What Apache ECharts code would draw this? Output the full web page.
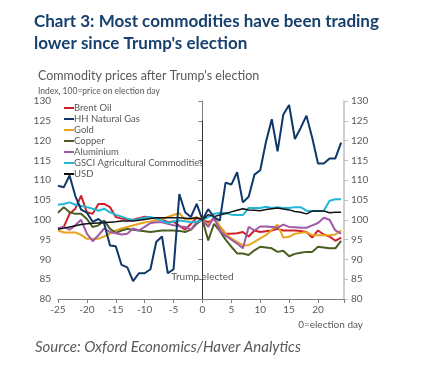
<!DOCTYPE html>
<html>
<head>
<meta charset="utf-8">
<script src="https://cdn.jsdelivr.net/npm/echarts@6/dist/echarts.min.js"></script>
<style>
html,body{margin:0;padding:0;background:#fff;}
#c{width:440px;height:368px;}
</style>
</head>
<body>
<div id="c"></div>
<script>
// Days relative to election day
const days = [-25,-24,-23,-22,-21,-20,-19,-18,-17,-16,-15,-14,-13,-12,-11,-10,-9,-8,-7,-6,-5,-4,-3,-2,-1,0,
  1,2,3,4,5,6,7,8,9,10,11,12,13,14,15,16,17,18,19,20,21,22,23,24];

const brentOil = [97.8,98.2,101.5,102.8,106.1,101.9,101.5,104,104,103.2,100.7,100.3,100.1,100,100.4,100.8,100.5,100.3,100.1,99.4,99.6,98.5,97.5,99,100.5,100,
  99.4,100.2,98.2,96.5,96.5,96.6,96.9,95.8,97.3,96.9,97.1,97.3,97.7,97.3,97.3,97.3,97.2,96.9,95.5,97.3,96.3,95.8,94.7,95.5];
const hhNaturalGas = [108.6,108.2,111.2,106,102.6,101.8,99.5,100.2,99,93.5,93.3,88.6,88,84.5,86.5,86.5,87.5,94.4,95.8,86.5,87.5,106.5,101.9,100.7,104,100,
  102.7,100.7,99.8,109.4,108.9,112,104.4,105.8,111.4,112.5,119.7,125.4,117.3,126.6,129,120.4,123.2,126.3,120.7,114.2,114.2,115.5,115.5,119.5];
const gold = [97.3,96.8,96.8,96.8,96.2,95.2,95.2,95.2,95.8,96.5,97.3,97.8,98.2,98.6,99,99.3,99.6,99.8,100.2,100.7,101.2,101.7,100,100.2,100.7,100,
  98.6,100.7,98.5,96.5,95.3,94.4,93.6,93.6,94.4,95.3,96.1,97.4,98.8,95.5,95.7,96.5,96.7,96.9,96.1,96.1,96.1,96.1,96.3,97.3];
const copper = [101.8,103.2,101.9,101.5,101.5,100.2,98.2,98.6,99.8,97.7,96.7,97.3,97.7,97.5,97.3,97.1,96.9,97.1,97.3,97.3,97.3,97.2,96.9,97.5,99,100,
  94.8,99,97.2,95,93.2,91.5,91.5,91.1,92.3,93.2,93,92.8,91.9,92.2,90.8,91.4,91.7,91.9,91.9,93.2,93,92.8,92.8,94.7];
const aluminium = [97.8,98.2,97.5,98.6,100,96.5,94.6,96.1,97.8,96.9,96.6,96.3,96.5,97.8,97.3,98.2,99.2,99.4,99.4,99,98.6,98.4,98.2,97.5,99.4,100,
  98.2,100.7,97.3,96,95,94,92.8,98.2,97.3,98.3,98.3,98.2,98,98.8,98.2,98.1,98,98,98.6,99.2,100.5,100,97.3,96.5];
const gsciAgri = [103.8,104,104.4,103.8,103.5,103.2,102.8,102.3,102.8,101.9,101.3,100.8,100.3,99.9,100.2,100.5,100.7,100.3,99.8,99.2,99.6,99.8,99.6,99.4,99.5,100,
  100.7,101.5,101.7,101.7,101.3,101.2,101.2,103,103,103,103.3,103,103.2,103,103,103.2,103.2,102.3,102.2,102.2,102.3,104.8,105.2,105.2];
const usd = [97.6,97.9,98.2,98.5,98.8,99,99.1,99.2,99.3,99.4,99.5,99.7,99.7,99.7,99.9,100.1,100.3,100.5,100.5,100.5,100.5,100.5,100.4,100.3,100.5,100,
  101.3,100.8,101.2,101.6,102,102.4,102.8,102.5,102.4,102.3,102.6,102.8,103,102.7,102.5,102.1,101.9,101.5,102.2,102.2,102.2,101.8,101.9,101.9];

const seriesNames = ['Brent Oil','HH Natural Gas','Gold','Copper','Aluminium','GSCI Agricultural Commodities','USD'];
const seriesValues = [brentOil, hhNaturalGas, gold, copper, aluminium, gsciAgri, usd];
const seriesColors = ['#d0202a','#0d3868','#e8a41c','#4b5e22','#a05aa6','#22b5d6','#111111'];

const yTicks = [80,85,90,95,100,105,110,115,120,125,130];
const xTickLabels = [-25,-20,-15,-10,-5,0,5,10,15,20];

const FONT = 'Lato, "Open Sans", sans-serif';
const grey = '#595959';

const chart = echarts.init(document.getElementById('c'), null, {renderer:'canvas'});

const series = seriesNames.map((n,i)=>({
  name:n, type:'line', data: days.map((d,j)=>[d, seriesValues[i][j]]),
  showSymbol:false, symbol:'none',
  lineStyle:{width: i===6 ? 1.5 : 2, color: seriesColors[i]},
  itemStyle:{color: seriesColors[i]},
  z: i===1 ? 3 : 2,
  animation:false
}));

series.push({
  name:'_marker', type:'line', data:[], silent:true, animation:false,
  markLine:{
    silent:true, symbol:'none', animation:false,
    lineStyle:{color:'#333', width:1, type:'solid'},
    label:{show:false},
    data:[[{coord:[0,80]},{coord:[0,125]}]]
  },
  markPoint:{
    silent:true, symbol:'circle', symbolSize:0, animation:false,
    label:{show:true, formatter:'Trump elected', color:grey, fontSize:10, fontFamily:FONT, position:'inside'},
    data:[{coord:[0,85.6]}]
  }
});

chart.setOption({
  animation:false,
  backgroundColor:'#fff',
  title:[
    {text:"Chart 3: Most commodities have been trading\nlower since Trump's election", left:29, top:6,
     textStyle:{fontFamily:FONT, fontWeight:'bold', fontSize:17, color:'#17406d', lineHeight:22}},
    {text:"Commodity prices after Trump's election", left:33, top:64,
     textStyle:{fontFamily:FONT, fontWeight:'normal', fontSize:12.5, color:grey}},
    {text:"Index, 100=price on election day", left:33, top:82,
     textStyle:{fontFamily:FONT, fontWeight:'normal', fontSize:8.5, color:grey}},
    {text:"Source: Oxford Economics/Haver Analytics", left:30, top:335,
     textStyle:{fontFamily:FONT, fontWeight:'normal', fontStyle:'italic', fontSize:15, color:grey}}
  ],
  legend:{
    data:seriesNames, orient:'vertical', left:59, top:97.5,
    icon:'rect', itemWidth:10, itemHeight:2, itemGap:0,
    textStyle:{fontFamily:FONT, fontSize:9.5, color:grey, lineHeight:11, padding:[0,0,0,-5]},
    selectedMode:false
  },
  graphic:[{type:'text', right:77, top:320, style:{text:'0=election day', fontFamily:FONT, fontSize:10, fill:grey}}],
  grid:{left:58, right:96, top:101, bottom:69},
  xAxis:{
    type:'value', min:-25, max:24.5, interval:5,
    axisLine:{show:true, lineStyle:{color:'#7f7f7f'}},
    axisTick:{show:true, length:4, lineStyle:{color:'#7f7f7f'}},
    splitLine:{show:false},
    axisLabel:{fontFamily:FONT, fontSize:10, color:grey, margin:6,
      formatter:v=> xTickLabels.indexOf(v)>=0 ? String(v) : ''}
  },
  yAxis:[
    {type:'value', min:yTicks[0], max:yTicks[yTicks.length-1], interval:5, position:'left',
     axisLine:{show:true, lineStyle:{color:'#7f7f7f'}},
     axisTick:{show:true, length:4, lineStyle:{color:'#7f7f7f'}},
     splitLine:{show:false},
     axisLabel:{fontFamily:FONT, fontSize:10, color:grey, margin:7}},
    {type:'value', min:yTicks[0], max:yTicks[yTicks.length-1], interval:5, position:'right',
     axisLine:{show:true, lineStyle:{color:'#bfbfbf', width:1.5}},
     axisTick:{show:true, length:4, lineStyle:{color:'#bfbfbf'}},
     splitLine:{show:false},
     axisLabel:{fontFamily:FONT, fontSize:10, color:grey, margin:7}}
  ],
  series:series
});
</script>
</body>
</html>
